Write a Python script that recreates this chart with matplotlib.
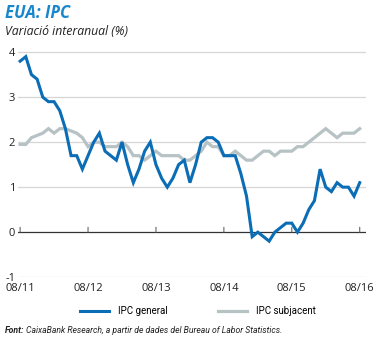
import matplotlib
matplotlib.use("Agg")
import matplotlib.pyplot as plt
import numpy as np

# monthly year-on-year CPI, Aug 2011 .. Aug 2016
ipc_general = [3.8, 3.9, 3.5, 3.4, 3.0, 2.9, 2.9, 2.7, 2.3, 1.7, 1.7, 1.4,
               1.7, 2.0, 2.2, 1.8, 1.7, 1.6, 2.0, 1.5, 1.1, 1.4, 1.8, 2.0,
               1.5, 1.2, 1.0, 1.2, 1.5, 1.6, 1.1, 1.5, 2.0, 2.1, 2.1, 2.0,
               1.7, 1.7, 1.7, 1.3, 0.8, -0.1, 0.0, -0.1, -0.2, 0.0, 0.1, 0.2,
               0.2, 0.0, 0.2, 0.5, 0.7, 1.4, 1.0, 0.9, 1.1, 1.0, 1.0, 0.8,
               1.1]
ipc_subjacent = [1.95, 1.95, 2.1, 2.15, 2.2, 2.3, 2.2, 2.3, 2.3, 2.25, 2.2, 2.1,
                 1.9, 2.0, 2.0, 1.9, 1.9, 1.9, 2.0, 1.9, 1.7, 1.7, 1.6, 1.7,
                 1.8, 1.7, 1.7, 1.7, 1.7, 1.6, 1.6, 1.7, 1.8, 2.0, 1.9, 1.9,
                 1.7, 1.7, 1.8, 1.7, 1.6, 1.6, 1.7, 1.8, 1.8, 1.7, 1.8, 1.8,
                 1.8, 1.9, 1.9, 2.0, 2.1, 2.2, 2.3, 2.2, 2.1, 2.2, 2.2, 2.2,
                 2.3]
tick_pos = [0, 12, 24, 36, 48, 60]
tick_labels = ["08/11", "08/12", "08/13", "08/14", "08/15", "08/16"]
y_ticks = [-1, 0, 1, 2, 3, 4]

BLUE = "#0b6db5"
GREY = "#b7c2c5"
TITLE_BLUE = "#1a86cc"
TEXT = "#222222"
plt.rcParams["font.family"] = ["Open Sans", "DejaVu Sans"]
NARROW = ["Roboto", "DejaVu Sans"]

fig = plt.figure(figsize=(3.8, 3.38), dpi=100)
ax = fig.add_axes([0.047, 0.180, 0.916, 0.679])

x = np.arange(len(ipc_general))
ax.plot(x, ipc_subjacent, color=GREY, lw=2.3, solid_joinstyle="miter", zorder=3,
        label="IPC subjacent")
ax.plot(x, ipc_general, color=BLUE, lw=2.2, solid_joinstyle="miter", zorder=4,
        label="IPC general")

ax.set_xlim(-0.4, 61.1)
ax.set_ylim(-1, 4.1)
for v in y_ticks:
    if v != 0:
        ax.axhline(v, color="#d6d6d6", lw=0.9, zorder=1)
ax.axhline(0, color="#333333", lw=0.9, zorder=2)
# small tick marks sitting on the zero line
for p in tick_pos:
    ax.annotate("", xy=(p, 0), xytext=(0, 3.5), textcoords="offset points",
                arrowprops=dict(arrowstyle="-", color="#666666", lw=0.8,
                                shrinkA=0, shrinkB=0))

ax.set_yticks(y_ticks)
ax.set_yticklabels([str(v) for v in y_ticks])
ax.set_xticks(tick_pos)
ax.set_xticklabels(tick_labels)
ax.tick_params(axis="both", length=0, labelsize=8, colors=TEXT)
ax.tick_params(axis="x", pad=4)
ax.tick_params(axis="y", pad=2)
for s in ax.spines.values():
    s.set_visible(False)

fig.text(0.012, 0.962, "EUA: IPC", color=TITLE_BLUE, fontsize=12,
         fontweight="bold", style="italic", va="center")
fig.text(0.012, 0.908, "Variació interanual (%)", color=TEXT, fontsize=8.8,
         style="italic", va="center")

handles, labels = ax.get_legend_handles_labels()
fig.legend(handles[::-1], labels[::-1], loc="center", bbox_to_anchor=(0.52, 0.079),
           ncol=2, frameon=False, handlelength=3.0,
           columnspacing=5.2, handletextpad=0.9, prop={"family": NARROW, "size": 7})

t1 = fig.text(0.012, 0.022, "Font:", fontsize=6.2, fontweight="bold", family=NARROW,
              style="italic", va="center", color=TEXT)
fig.canvas.draw()
bb = t1.get_window_extent()
fig.text(bb.x1 / fig.bbox.width + 0.005, 0.022,
         "CaixaBank Research, a partir de dades del Bureau of Labor Statistics.",
         fontsize=6.2, family=NARROW, style="italic", va="center", color=TEXT)

fig.savefig("out.png", dpi=100)
